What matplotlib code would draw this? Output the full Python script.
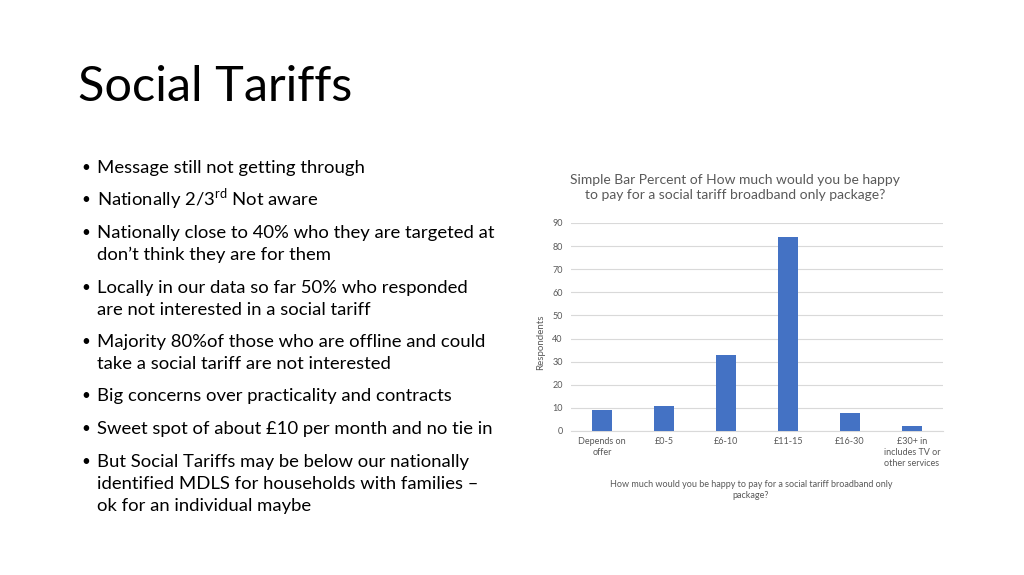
import matplotlib
matplotlib.use("Agg")
from matplotlib import pyplot as plt

plt.rcParams['font.family'] = ['Lato', 'DejaVu Sans']
plt.rcParams['mathtext.fontset'] = 'custom'
plt.rcParams['mathtext.rm'] = 'Lato'

# chart data
categories = ["Depends on\noffer", "£0-5", "£6-10", "£11-15", "£16-30",
              "£30+ in\nincludes TV or\nother services"]
respondents = [9, 11, 33, 84, 8, 2]
y_ticks = [0, 10, 20, 30, 40, 50, 60, 70, 80, 90]

slide_title = "Social Tariffs"
bullets = [
    ["Message still not getting through"],
    ["Nationally 2/3$^{\\mathregular{rd}}$ Not aware"],
    ["Nationally close to 40% who they are targeted at", "don\u2019t think they are for them"],
    ["Locally in our data so far 50% who responded", "are not interested in a social tariff"],
    ["Majority 80%of those who are offline and could", "take a social tariff are not interested"],
    ["Big concerns over practicality and contracts"],
    ["Sweet spot of about £10 per month and no tie in"],
    ["But Social Tariffs may be below our nationally",
     "identified MDLS for households with families \u2013", "ok for an individual maybe"],
]
chart_title = "Simple Bar Percent of How much would you be happy\nto pay for a social tariff broadband only package?"
x_label = "How much would you be happy to pay for a social tariff broadband only\npackage?"
y_label = "Respondents"

W, H = 1024, 575
fig = plt.figure(figsize=(W / 100, H / 100), dpi=100)
fig.patch.set_facecolor("white")


def px(x, y):
    return x / W, 1 - y / H


# slide title
fig.text(*px(78, 101), slide_title, fontsize=35, color="#000000", va="baseline", ha="left")

# bullets (baseline of first line of each bullet)
bullet_y = [173, 205, 238, 293, 347, 401, 434, 467]
for yy, lines in zip(bullet_y, bullets):
    fig.text(*px(81, yy - 1), "\u2022", fontsize=11, va="baseline", ha="left", color="#000000")
    for i, line in enumerate(lines):
        fig.text(*px(97, yy + 22 * i), line, fontsize=13.3, va="baseline", ha="left",
                 color="#000000")

# chart
ax = fig.add_axes([571 / W, 1 - 431 / H, 372 / W, (431 - 223) / H])
xs = range(len(categories))
ax.bar(xs, respondents, width=0.32, color="#4472C4", zorder=3)
ax.set_ylim(0, 90)
ax.set_xlim(-0.5, len(categories) - 0.5)
ax.set_yticks(y_ticks)
ax.set_xticks(list(xs))
ax.set_xticklabels(categories, fontsize=6.5, color="#595959", linespacing=1.3)
ax.tick_params(axis="y", labelsize=6.5, labelcolor="#595959", length=0, pad=6)
ax.tick_params(axis="x", length=0, pad=4)
ax.grid(axis="y", color="#D9D9D9", linewidth=0.8, zorder=0)
for s in ["top", "right", "left"]:
    ax.spines[s].set_visible(False)
ax.spines["bottom"].set_color("#D9D9D9")
ax.set_facecolor("white")

fig.text(*px(735, 187), chart_title, fontsize=10, color="#595959", ha="center",
         va="center", linespacing=1.3)
fig.text(*px(751, 490), x_label, fontsize=6.5, color="#595959", ha="center",
         va="center", linespacing=1.4)
fig.text(*px(541, 342), y_label, fontsize=7, color="#595959", ha="center",
         va="center", rotation=90)

fig.savefig("out.png", dpi=100)
